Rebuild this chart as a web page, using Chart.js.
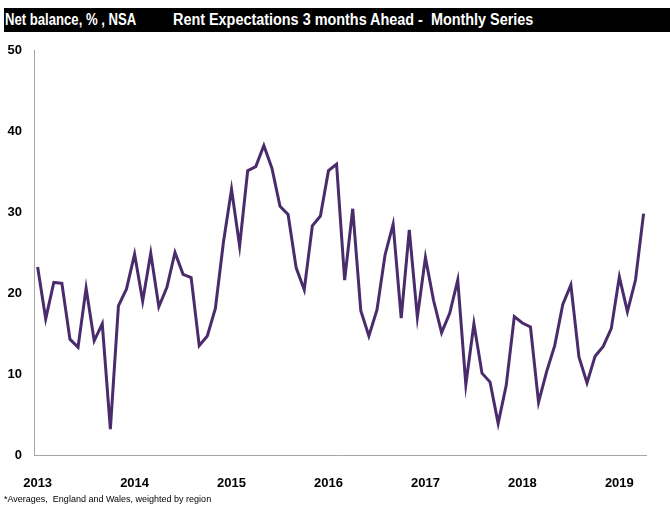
<!DOCTYPE html>
<html>
<head>
<meta charset="utf-8">
<script src="https://cdn.jsdelivr.net/npm/chart.js@4"></script>
<style>
  html, body { margin: 0; padding: 0; background: #fff; }
  body { width: 670px; height: 511px; position: relative; overflow: hidden;
         font-family: "Liberation Sans", Arial, sans-serif; }
  #bar { position: absolute; left: 4px; top: 8px; width: 666px; height: 24px; background: #000;
         color: #fff; font-weight: bold; font-size: 16px; line-height: 24px; white-space: pre; }
  #bar span { position: absolute; top: 0; transform-origin: 0 50%; }
  #note { position: absolute; left: 4px; top: 494px; font-size: 9px; color: #000; white-space: pre; }
  #wrap { position: absolute; left: 0; top: 0; width: 670px; height: 511px; }
</style>
</head>
<body>
<div id="wrap"><canvas id="chart"></canvas></div>
<div id="bar"><span style="left:1px; transform: scaleX(0.82)">Net balance, % , NSA</span><span style="left:169px; transform: scaleX(0.9)">Rent Expectations 3 months Ahead -  Monthly Series</span></div>
<div id="note">*Averages,  England and Wales, weighted by region</div>
<script>
// monthly net balance, Jan of each year onwards
const y2013 = [23.2, 16.8, 21.3, 21.2, 14.3, 13.3, 20.6, 14.1, 16.2, 3.2, 18.4, 20.5];
const y2014 = [24.8, 19.0, 24.9, 18.3, 20.7, 25.0, 22.3, 21.9, 13.5, 14.7, 18.1, 26.3];
const y2015 = [32.8, 25.8, 35.1, 35.6, 38.2, 35.4, 30.7, 29.7, 23.1, 20.4, 28.3, 29.5];
const y2016 = [35.1, 35.9, 21.6, 30.4, 17.8, 14.7, 17.9, 24.7, 28.5, 16.9, 27.8, 17.0];
const y2017 = [24.4, 19.1, 15.1, 17.5, 21.6, 8.7, 16.2, 10.1, 9.0, 3.9, 8.6, 17.1];
const y2018 = [16.3, 15.8, 6.5, 10.3, 13.5, 18.6, 21.0, 12.1, 8.9, 12.2, 13.4, 15.6];
const y2019 = [22.0, 17.7, 21.6, 29.8];

const yearLabels = ['2013', '2014', '2015', '2016', '2017', '2018', '2019'];

const values = [].concat(y2013, y2014, y2015, y2016, y2017, y2018, y2019);
const points = values.map((v, i) => ({ x: i, y: v }));

const tickFont = { family: '"Liberation Sans", Arial, sans-serif', size: 13, weight: 'bold' };

new Chart(document.getElementById('chart'), {
  type: 'line',
  data: {
    datasets: [{
      data: points,
      borderColor: '#4a2c6c',
      borderWidth: 3,
      pointRadius: 0,
      tension: 0,
      fill: false
    }]
  },
  options: {
    responsive: true,
    maintainAspectRatio: false,
    animation: false,
    layout: { padding: { top: 50, right: 24, left: 0, bottom: 0 } },
    plugins: { legend: { display: false }, tooltip: { enabled: false } },
    scales: {
      x: {
        type: 'linear',
        min: -0.45,
        max: 75.3,
        afterFit: (s) => { s.height = 56; },
        afterBuildTicks: (s) => { s.ticks = yearLabels.map((_, i) => ({ value: i * 12 })); },
        grid: { display: false, drawTicks: false },
        border: { display: true, color: '#a6a6a6', width: 1 },
        ticks: {
          padding: 21,
          color: '#000',
          font: tickFont,
          maxRotation: 0,
          autoSkip: false,
          callback: (v) => yearLabels[Math.round(v / 12)]
        }
      },
      y: {
        min: 0,
        max: 50,
        afterFit: (s) => { s.width = 34; },
        grid: { display: false, drawTicks: false },
        border: { display: true, color: '#a6a6a6', width: 1 },
        ticks: { stepSize: 10, padding: 12, color: '#000', font: tickFont }
      }
    }
  }
});
</script>
</body>
</html>
